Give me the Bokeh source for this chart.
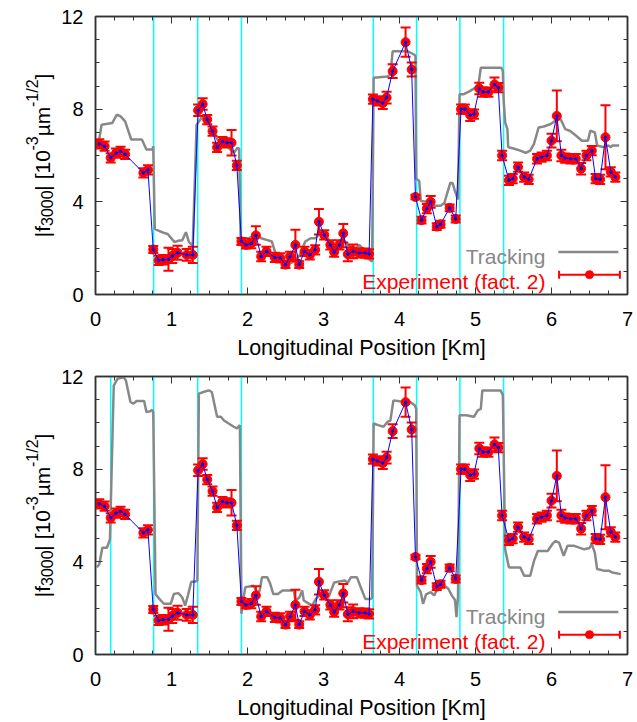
import math
from bokeh.plotting import figure
from bokeh.models import (Range1d, FixedTicker, LinearAxis, Span, Label, Arrow,
                          TeeHead, BoxAnnotation, ColumnDataSource)
from bokeh.core.properties import value
from bokeh.layouts import column, row
from bokeh.embed import file_html
from bokeh.resources import INLINE

# ---------------- data ----------------
EXP_X = [0.05, 0.12, 0.20, 0.27, 0.33, 0.39, 0.63, 0.69, 0.76, 0.83, 0.89, 0.96,
         1.01, 1.08, 1.20, 1.28, 1.35, 1.41, 1.47, 1.54, 1.60, 1.67, 1.73, 1.79,
         1.86, 1.92, 1.98, 2.05, 2.11, 2.18, 2.25, 2.36, 2.43, 2.50, 2.56, 2.63,
         2.68, 2.75, 2.82, 2.89, 2.94, 3.01, 3.09, 3.14, 3.21, 3.26, 3.32, 3.39,
         3.47, 3.55, 3.60, 3.65, 3.71, 3.78, 3.83, 3.91, 4.08, 4.16, 4.21, 4.29,
         4.36, 4.41, 4.49, 4.54, 4.66, 4.74, 4.81, 4.86, 4.93, 4.98, 5.05, 5.10,
         5.17, 5.25, 5.30, 5.35, 5.44, 5.49, 5.56, 5.64, 5.70, 5.81, 5.87, 5.94,
         6.00, 6.07, 6.13, 6.18, 6.25, 6.32, 6.39, 6.46, 6.53, 6.58, 6.64, 6.71,
         6.78, 6.84]
EXP_Y = [6.50, 6.40, 5.90, 6.10, 6.18, 6.05, 5.25, 5.38, 1.94, 1.47, 1.50, 1.52,
         1.66, 1.80, 1.71, 1.71, 7.95, 8.22, 7.55, 7.05, 6.35, 6.60, 6.55, 6.55,
         5.57, 2.29, 2.14, 2.20, 2.55, 1.64, 1.86, 1.60, 1.58, 1.29, 1.64, 2.14,
         1.29, 1.86, 1.71, 1.93, 3.14, 2.57, 2.14, 1.83, 2.14, 2.64, 1.74, 1.86,
         1.80, 1.79, 1.75, 8.43, 8.36, 8.26, 8.50, 9.64, 10.89, 9.71, 4.21, 3.21,
         3.71, 4.00, 2.93, 3.03, 3.74, 3.26, 8.00, 8.00, 7.74, 7.79, 8.89, 8.74,
         8.74, 9.07, 8.93, 6.00, 4.93, 5.00, 5.50, 5.07, 4.97, 5.86, 5.93, 6.00,
         6.64, 7.71, 6.00, 5.89, 5.86, 5.86, 5.43, 6.00, 6.21, 5.00, 4.97, 6.79,
         5.29, 5.07]
EXP_ERR = [0.20, 0.20, 0.20, 0.20, 0.20, 0.20, 0.20, 0.20, 0.15, 0.20, 0.20, 0.50,
           0.30, 0.30, 0.25, 0.35, 0.25, 0.25, 0.20, 0.20, 0.20, 0.20, 0.20, 0.55,
           0.20, 0.15, 0.15, 0.20, 0.40, 0.20, 0.20, 0.20, 0.20, 0.15, 0.20, 0.65,
           0.15, 0.20, 0.20, 0.20, 0.55, 0.20, 0.20, 0.20, 0.20, 0.40, 0.30, 0.30,
           0.20, 0.20, 0.20, 0.20, 0.20, 0.25, 0.25, 0.30, 0.63, 0.30, 0.10, 0.15,
           0.20, 0.25, 0.15, 0.15, 0.15, 0.15, 0.20, 0.20, 0.25, 0.20, 0.25, 0.20,
           0.20, 0.30, 0.20, 0.20, 0.20, 0.20, 0.20, 0.20, 0.20, 0.20, 0.20, 0.20,
           0.30, 1.10, 0.25, 0.20, 0.20, 0.20, 0.25, 0.20, 0.20, 0.20, 0.20, 1.38,
           0.20, 0.20]

TRK_TOP_X = [0.04, 0.08, 0.22, 0.28, 0.33, 0.39, 0.47, 0.61, 0.67, 0.75, 0.76,
             0.78, 0.84, 0.90, 0.95, 1.04, 1.10, 1.14, 1.19, 1.23, 1.28, 1.33,
             1.41, 1.46, 1.54, 1.60, 1.66, 1.73, 1.82, 1.87, 1.89, 1.91, 2.02,
             2.10, 2.18, 2.25, 2.32, 2.36, 2.43, 2.50, 2.60, 2.69, 2.76, 2.83,
             2.90, 2.96, 3.02, 3.09, 3.14, 3.24, 3.32, 3.43, 3.47, 3.55, 3.58,
             3.64, 3.66, 3.84, 3.88, 3.91, 4.11, 4.19, 4.21, 4.22, 4.26, 4.28,
             4.36, 4.41, 4.54, 4.59, 4.63, 4.67, 4.70, 4.73, 4.77, 4.79, 4.84,
             4.92, 5.00, 5.04, 5.07, 5.34, 5.36, 5.37, 5.39, 5.42, 5.43, 5.50,
             5.59, 5.66, 5.72, 5.77, 5.83, 5.90, 5.99, 6.05, 6.12, 6.18, 6.24,
             6.32, 6.40, 6.48, 6.51, 6.57, 6.60, 6.69, 6.75, 6.78, 6.80, 6.89]
TRK_TOP_Y = [6.50, 7.33, 7.40, 7.76, 7.69, 7.47, 6.69, 6.69, 6.26, 6.26, 6.40,
             2.83, 2.74, 2.66, 2.61, 2.26, 2.33, 2.33, 2.69, 2.26, 2.11, 7.33,
             7.69, 7.55, 7.15, 6.70, 6.55, 6.40, 6.11, 6.33, 6.30, 2.43, 2.43,
             2.57, 2.43, 2.36, 2.29, 1.86, 1.43, 1.29, 1.40, 1.71, 2.29, 2.43,
             2.43, 2.71, 2.64, 2.14, 1.93, 2.43, 2.14, 2.00, 2.14, 1.86, 1.57,
             1.43, 9.36, 9.41, 9.50, 10.50, 10.50, 10.36, 10.30, 5.00, 4.90, 4.04,
             4.00, 3.83, 3.83, 3.95, 4.40, 4.83, 4.80, 4.46, 4.10, 8.64, 8.64,
             8.77, 8.93, 9.10, 9.79, 9.79, 9.65, 8.43, 7.43, 7.14, 6.36, 6.30,
             6.21, 6.11, 6.21, 6.50, 7.21, 7.25, 7.36, 7.50, 7.57, 7.14, 7.07,
             6.86, 6.64, 6.64, 7.07, 7.00, 6.43, 6.36, 6.43, 6.36, 6.43, 6.43]

TRK_BOT_X = [0.02, 0.05, 0.09, 0.15, 0.19, 0.24, 0.29, 0.37, 0.40, 0.46, 0.50,
             0.54, 0.64, 0.67, 0.72, 0.745, 0.76, 0.79, 0.84, 0.90, 0.99, 1.03,
             1.09, 1.14, 1.18, 1.22, 1.26, 1.31, 1.34, 1.36, 1.42, 1.49, 1.53,
             1.60, 1.65, 1.69, 1.82, 1.86, 1.90, 1.92, 1.97, 2.08, 2.13, 2.16,
             2.19, 2.26, 2.30, 2.34, 2.40, 2.46, 2.61, 2.63, 2.68, 2.72, 2.74,
             2.78, 2.85, 2.90, 2.95, 3.00, 3.07, 3.14, 3.28, 3.32, 3.36, 3.44,
             3.49, 3.55, 3.62, 3.64, 3.66, 3.72, 3.79, 3.84, 3.88, 3.92, 4.00,
             4.14, 4.20, 4.22, 4.23, 4.28, 4.31, 4.35, 4.41, 4.46, 4.50, 4.59,
             4.64, 4.69, 4.73, 4.75, 4.77, 4.79, 4.88, 4.98, 5.03, 5.07, 5.09,
             5.33, 5.36, 5.39, 5.44, 5.59, 5.64, 5.72, 5.77, 5.82, 5.95, 6.01,
             6.05, 6.10, 6.16, 6.21, 6.30, 6.43, 6.50, 6.53, 6.57, 6.60, 6.70,
             6.76, 6.80, 6.91]
TRK_BOT_Y = [3.76, 3.90, 4.61, 4.61, 4.97, 11.61, 11.90, 11.97, 11.83, 10.90,
             10.83, 10.94, 10.94, 10.47, 10.50, 10.57, 10.45, 2.60, 2.40, 2.19,
             2.19, 2.61, 2.65, 2.47, 2.11, 2.60, 3.14, 3.14, 3.20, 11.26, 11.33,
             11.40, 11.33, 10.26, 10.26, 10.10, 9.83, 9.76, 9.90, 1.76, 2.90,
             2.97, 2.68, 2.75, 3.33, 3.33, 3.04, 2.61, 2.61, 2.76, 2.76, 2.33,
             2.45, 2.76, 2.33, 2.25, 2.11, 2.40, 2.55, 2.50, 2.50, 3.11, 3.19,
             3.10, 3.33, 3.33, 2.90, 2.40, 2.40, 2.45, 9.97, 9.90, 9.83, 10.04,
             10.10, 10.97, 10.93, 10.90, 10.76, 10.60, 2.97, 2.68, 2.19, 2.60,
             2.69, 2.55, 2.90, 2.97, 2.85, 2.54, 2.35, 1.61, 2.50, 10.33, 10.33,
             10.26, 10.54, 10.60, 11.40, 11.40, 11.20, 4.54, 3.76, 3.76, 3.40,
             3.40, 4.04, 4.47, 4.47, 4.76, 4.90, 4.83, 4.26, 4.69, 4.69, 4.54,
             4.60, 4.76, 4.40, 3.69, 3.61, 3.61, 3.54, 3.47]

CYAN_TOP = [0.765, 1.345, 1.92, 3.655, 4.225, 4.795, 5.37]
CYAN_BOT = [0.20, 0.765, 1.345, 1.92, 3.655, 4.225, 4.795, 5.37]

X_TICKS = [0, 1, 2, 3, 4, 5, 6, 7]
X_MINOR = [i * 0.25 for i in range(29)]
Y_TICKS = [0, 4, 8, 12]
Y_MINOR = list(range(13))

LEGEND_LABELS = ["Tracking", "Experiment (fact. 2)"]
X_LABEL = "Longitudinal Position [Km]"
# y label pieces: (text, font px, baseline shift px: + = subscript, - = superscript)
Y_LABEL_PIECES = [("|f", 21, 0), ("3000", 16, 5), ("| [10", 21, 0), ("-3", 16, -10),
                  ("\u00b5m", 21, 0), ("-1/2", 16, -10), ("]", 21, 0)]

# ---------------- styling / layout constants ----------------
FONT = "Liberation Sans"
GRAY = "#888888"
RED = "#ff0000"
BLUE = "#0000ff"
CYAN = "#00ffff"
FRAME_C = "#333333"
FW, FH = 532, 280
XMAX, YMAX = 7.0, 12.0
PXX = FW / XMAX
PXY = FH / YMAX
LABEL_W = 55          # width of the strip that carries the rotated y label
MAIN_W = 582
BORDER_L = 40

# Arial / Liberation Sans advance widths (per 1000 em)
ADV = {"|": 260, "f": 278, "3": 556, "0": 556, " ": 278, "[": 278, "1": 556,
       "-": 333, "\u00b5": 576, "m": 833, "/": 278, "2": 556, "]": 278}


def tw(s, size):
    return sum(ADV[c] for c in s) * size / 1000.0


def add_axes(p, tick_standoff, label_standoff):
    common = dict(major_tick_in=7, major_tick_out=0, minor_tick_in=4, minor_tick_out=0,
                  major_tick_line_color=FRAME_C, minor_tick_line_color=FRAME_C,
                  axis_line_color=FRAME_C, axis_line_width=1.5,
                  major_label_text_font=FONT)
    hidden = dict(major_label_text_font_size="1px", major_label_standoff=0,
                  major_label_text_color=None, major_label_text_alpha=0)
    bx = LinearAxis(ticker=FixedTicker(ticks=X_TICKS, minor_ticks=X_MINOR),
                    axis_label=X_LABEL, axis_label_text_font=FONT,
                    axis_label_text_font_size="21.5px", axis_label_text_font_style="normal",
                    axis_label_text_color="black", axis_label_standoff=label_standoff,
                    major_label_text_font_size="20px", major_label_standoff=tick_standoff,
                    major_label_text_color="black", **common)
    ly = LinearAxis(ticker=FixedTicker(ticks=Y_TICKS, minor_ticks=Y_MINOR),
                    major_label_text_font_size="20px", major_label_standoff=12,
                    major_label_text_color="black", **common)
    tx = LinearAxis(ticker=FixedTicker(ticks=X_TICKS, minor_ticks=X_MINOR), **hidden, **common)
    ry = LinearAxis(ticker=FixedTicker(ticks=Y_TICKS, minor_ticks=Y_MINOR), **hidden, **common)
    p.add_layout(bx, "below")
    p.add_layout(ly, "left")
    p.add_layout(tx, "above")
    p.add_layout(ry, "right")


def label_strip(height, border_top, border_bottom):
    # frame of this strip is aligned with the panel frame (same top/bottom borders)
    s = figure(width=LABEL_W, height=height, x_range=Range1d(0, LABEL_W),
               y_range=Range1d(0, FH), output_backend="svg", toolbar_location=None,
               x_axis_type=None, y_axis_type=None, min_border_left=0,
               min_border_right=0, min_border_top=border_top,
               min_border_bottom=border_bottom)
    s.outline_line_color = None
    s.background_fill_color = "white"
    s.border_fill_color = "white"
    total = sum(tw(t, sz) for t, sz, _ in Y_LABEL_PIECES)
    pos = FH / 2 - total / 2
    base = 41.5
    for t, sz, sh in Y_LABEL_PIECES:
        s.text(x=[base + sh], y=[pos], text=[t], angle=math.pi / 2,
               text_align=value("left"), text_baseline=value("alphabetic"),
               text_font=value(FONT), text_font_size=value(f"{sz}px"),
               text_color="black")
        pos += tw(t, sz)
    return s


def add_legend(p):
    tx = 5.92
    p.add_layout(Label(x=tx, y=1.62, text=LEGEND_LABELS[0], text_align="right",
                       text_baseline="alphabetic", text_font=FONT, text_font_size="21px",
                       text_color=GRAY))
    p.add_layout(Arrow(end=None, x_start=6.09, y_start=1.83, x_end=6.88, y_end=1.83,
                       line_color=GRAY, line_width=2.5))
    p.add_layout(Label(x=tx, y=0.545, text=LEGEND_LABELS[1], text_align="right",
                       text_baseline="alphabetic", text_font=FONT, text_font_size="21px",
                       text_color=RED))
    p.add_layout(Arrow(start=TeeHead(size=8, line_color=RED, line_width=2),
                       end=TeeHead(size=8, line_color=RED, line_width=2),
                       x_start=6.10, y_start=0.857, x_end=6.90, y_end=0.857,
                       line_color=RED, line_width=2))
    r = 4
    p.add_layout(BoxAnnotation(left=6.50 - r / PXX, right=6.50 + r / PXX,
                               bottom=0.857 - r / PXY, top=0.857 + r / PXY,
                               fill_color=RED, fill_alpha=1.0, line_color=RED,
                               line_alpha=1.0, border_radius=r))


def make_panel(trk_x, trk_y, cyan, border_top, border_bottom):
    height = border_top + FH + border_bottom
    p = figure(width=MAIN_W, height=height, x_range=Range1d(0, XMAX), y_range=Range1d(0, YMAX),
               output_backend="svg", toolbar_location=None, x_axis_type=None,
               y_axis_type=None, min_border_left=BORDER_L, min_border_right=10,
               min_border_top=border_top, min_border_bottom=border_bottom)
    p.outline_line_color = FRAME_C
    p.outline_line_width = 1.5
    p.background_fill_color = "white"
    p.border_fill_color = "white"
    add_axes(p, 17, 7)

    for cx in cyan:
        p.add_layout(Span(location=cx, dimension="height", line_color=CYAN,
                          line_width=1.5, level="underlay"))

    p.line(trk_x, trk_y, line_color=GRAY, line_width=2.5)

    lo = [y - e for y, e in zip(EXP_Y, EXP_ERR)]
    hi = [y + e for y, e in zip(EXP_Y, EXP_ERR)]
    src = ColumnDataSource(dict(x=EXP_X, y=EXP_Y, lo=lo, hi=hi))
    p.segment(x0="x", y0="lo", x1="x", y1="hi", source=src, line_color=RED, line_width=2)
    p.scatter("x", "hi", marker="dash", size=10, line_color=RED, line_width=2, source=src)
    p.scatter("x", "lo", marker="dash", size=10, line_color=RED, line_width=2, source=src)
    p.scatter("x", "y", marker="circle", size=9, fill_color=RED, line_color=RED, source=src)
    p.line("x", "y", line_color=BLUE, line_width=1, source=src)
    p.scatter("x", "y", marker="circle", size=2.5, fill_color=BLUE, line_color=BLUE, source=src)

    add_legend(p)
    return row(label_strip(height, border_top, border_bottom), p)


top = make_panel(TRK_TOP_X, TRK_TOP_Y, CYAN_TOP, 16, 66)
bottom = make_panel(TRK_BOT_X, TRK_BOT_Y, CYAN_BOT, 14, 66)

layout = column(top, bottom)
open("out.html", "w").write(file_html(layout, INLINE))
